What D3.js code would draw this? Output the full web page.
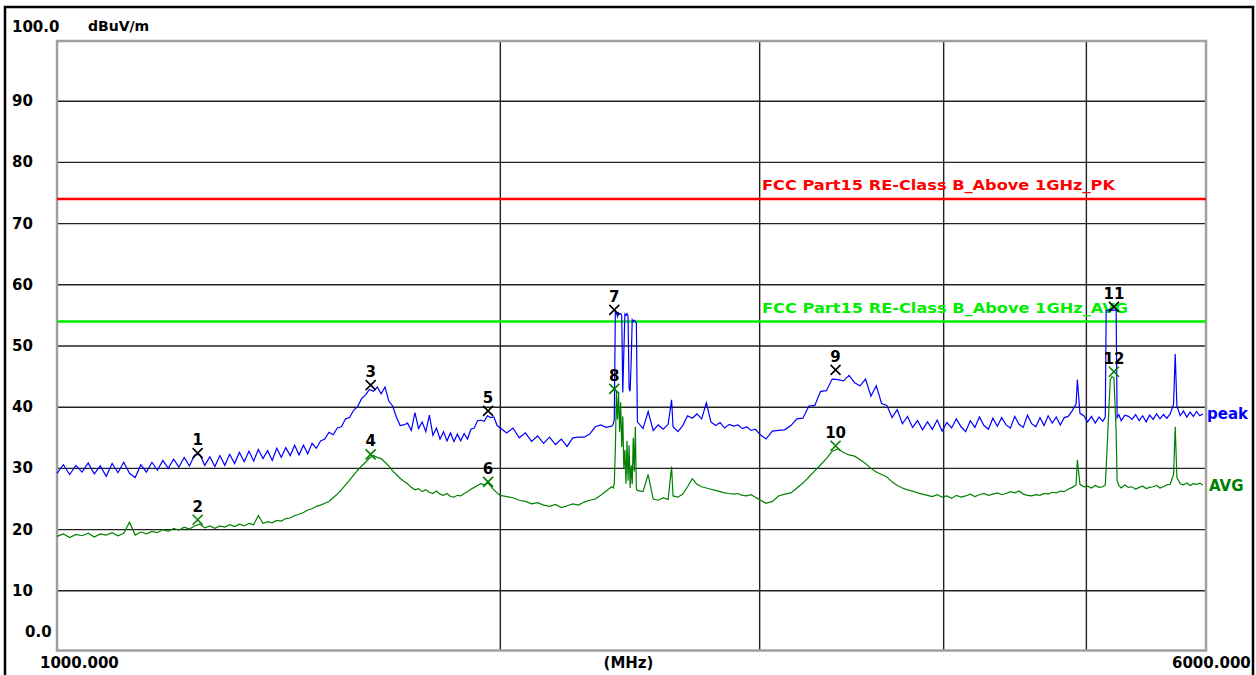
<!DOCTYPE html>
<html>
<head>
<meta charset="utf-8">
<script src="https://cdn.jsdelivr.net/npm/d3@7"></script>
<style>
  html, body { margin: 0; padding: 0; background: #fff; }
  svg { display: block; }
  text { font-family: "DejaVu Sans", sans-serif; }
</style>
</head>
<body>
<div id="chart"></div>
<script>
/* EMI scan 1-6 GHz, peak and average traces with FCC Part15 class B limits */

// sweep points (MHz) and levels (dBuV/m) in segments
const sweepA = [1000,1010,1020,1030,1040,1050,1060,1070,1080,1090,
    1100,1110,1120,1130,1140,1150,1160,1170,1180,1190,
    1200,1210,1220,1230,1240,1250,1260,1270,1280,1290,
    1300,1310,1320,1330,1340,1350,1360,1370,1380,1390,
    1400,1410,1420,1430,1440,1450,1460,1470,1480,1490,
    1500,1510,1520,1530,1540,1550,1560,1570,1580,1590,
    1600,1610,1620,1630,1640,1650,1660,1670,1680,1690,
    1700,1710,1720,1730,1740,1750,1760,1770,1780,1790,
    1800,1810,1820,1830,1840,1850,1860,1870,1880,1890,
    1900,1910,1920,1930,1940,1950,1960,1970,1980,1990];
const peakA = [29.2,30.6,29.0,30.5,29.4,30.9,29.1,30.4,28.7,30.8,
    29.3,31.0,29.2,28.5,30.6,29.4,31.0,29.7,31.3,30.0,
    31.5,30.2,31.8,30.4,32.2,32.3,30.5,31.9,30.3,32.1,
    30.5,32.3,30.8,32.6,31.1,32.8,31.2,33.1,31.6,32.9,
    31.3,33.3,31.8,33.4,32.1,33.8,32.2,33.8,32.4,34.1,
    33.3,34.5,34.8,35.9,35.5,36.6,36.8,38.1,38.3,39.5,
    40.1,41.4,42.0,42.9,42.6,43.3,42.2,43.3,41.0,40.2,
    38.4,37.0,37.1,37.4,36.2,39.1,36.5,37.6,36.0,38.7,
    35.4,36.6,34.8,36.0,34.5,35.8,34.4,35.6,34.5,35.7,
    34.8,36.4,36.6,37.8,37.9,37.7,38.6,38.3,38.4,37.0];
const avgA = [18.9,19.3,18.7,19.2,19.0,19.4,18.8,19.3,19.1,19.5,
    19.0,19.4,21.2,19.1,19.6,19.3,19.7,19.5,20.0,19.7,
    20.2,19.9,20.4,20.1,20.6,20.9,20.3,20.6,20.2,20.6,
    20.4,20.8,20.5,20.9,20.6,21.0,20.8,22.3,21.0,21.3,
    21.1,21.5,21.4,21.8,21.9,22.3,22.5,22.8,23.2,23.4,
    23.8,24.0,24.3,24.6,25.2,25.8,26.5,27.3,28.1,28.9,
    29.7,30.4,31.0,31.7,32.1,31.8,31.6,31.0,30.4,29.6,
    29.0,28.4,27.9,27.5,26.9,26.5,26.7,26.2,26.5,26.1,
    25.9,26.3,25.8,25.6,25.9,25.4,25.3,25.6,25.5,25.9,
    26.2,26.6,26.9,27.2,27.5,27.3,27.7,27.1,26.5,26.0];

const sweepB = [2000,2020,2040,2060,2080,2100,2120,2140,2160,2180,
    2200,2220,2240,2260,2280,2300,2320,2340,2360,2380];
const peakB = [36.6,35.8,36.6,35.0,35.8,34.4,35.3,34.1,35.1,33.9,
    34.8,33.6,35.0,35.1,35.1,35.6,36.8,37.1,36.7,36.9];
const avgB = [25.6,25.4,25.2,24.8,24.6,24.2,24.4,24.0,23.8,24.1,
    23.6,23.9,24.2,24.0,24.5,24.8,25.0,25.6,26.3,27.0];

// burst around 2.4 GHz
const sweepC = [2386,2390,2394,2398,2402,2406,2410,2414,2418,2422,2426,2430,
    2434,2438,2442,2446,2450,2454,2458,2462,2466,2470,2474,2478];
const peakC = [37.2,38.0,55.6,55.5,54.8,55.4,55.2,55.3,55.0,42.4,49.0,55.2,
    55.0,55.3,54.9,43.1,42.6,47.5,54.3,54.0,54.2,54.0,53.8,37.6];
const avgC = [26.8,27.5,33.0,42.6,38.0,42.2,36.0,40.8,33.5,38.5,30.0,33.0,
    27.5,34.5,28.0,33.8,26.8,30.5,27.4,35.0,29.5,36.8,26.6,26.4];

const sweepD = [2500,2520,2540,2560,2580,2600,2614,2620,2640,2660,2680,2700,2720,
    2740,2760,2780,2800,2820,2840,2860,2880,2900,2920,2940,2960,2980];
const peakD = [36.5,39.3,36.2,37.1,36.4,37.2,41.2,36.8,36.0,37.0,38.6,38.2,38.9,
    38.1,40.7,37.6,37.0,37.5,36.6,37.2,36.9,37.1,36.5,36.8,36.2,36.4];
const avgD = [26.2,29.0,25.0,24.8,25.2,24.9,30.3,25.5,25.3,25.8,27.0,28.3,27.4,
    27.0,26.8,26.6,26.4,26.2,26.0,25.9,25.8,25.9,25.6,25.5,25.7,25.3];

const sweepE = [3000,3030,3060,3090,3120,3150,3180,3210,3240,3270,
    3300,3330,3360,3390,3420,3450,3480,3510,3540,3570,
    3600,3630,3660,3690,3720,3750,3780,3810,3840,3870,
    3900,3930,3960,3990,4020,4050,4080,4110,4140,4170,
    4200,4230,4260,4290,4320,4350,4380,4410,4440,4470,
    4500,4530,4560,4590,4620,4650,4680,4710,4740,4770,
    4800,4830,4860,4890,4920,4930,4950,4980,5010,5040,
    5070,5100,5130,5150,5157,5175,5190,5205,5220,5238,
    5246,5260,5280,5310,5340,5370,5400,5430,5460,5490,
    5520,5550,5580,5610,5640,5670,5700,5730,5745,5760,
    5790,5820,5850,5880,5910,5940,5970,6000];
const peakE = [35.6,34.8,36.1,36.2,36.3,37.0,38.1,38.2,40.2,40.3,
    42.6,42.7,44.6,44.5,44.3,45.2,44.0,43.5,44.6,41.8,
    43.5,40.6,40.3,38.3,39.6,37.3,38.5,36.7,37.8,36.3,
    37.6,36.4,37.9,36.1,37.5,36.6,38.1,36.8,36.0,37.8,
    36.7,38.4,37.0,36.4,38.2,36.9,38.3,37.1,36.6,38.5,
    37.2,36.7,38.7,37.3,36.8,38.3,37.0,38.6,37.4,38.4,
    37.1,38.3,38.5,39.4,40.5,44.5,39.0,38.6,37.6,38.5,
    37.4,38.4,37.7,38.4,55.8,55.9,56.0,55.8,55.9,55.8,
    38.3,38.8,37.8,38.7,38.5,38.0,38.8,37.8,38.6,37.6,
    38.7,38.0,38.9,38.1,38.8,38.2,38.9,40.5,48.7,40.2,
    38.6,39.4,38.4,39.2,38.5,39.3,38.6,38.9];
const avgE = [24.9,24.3,24.6,25.5,25.8,26.0,26.8,27.6,28.6,29.6,
    30.6,31.6,32.8,33.2,32.6,32.2,32.0,31.4,30.8,30.0,
    29.4,29.0,28.6,27.8,27.2,26.8,26.5,26.3,26.0,25.8,
    25.6,25.4,25.7,25.3,25.5,25.1,25.6,25.3,25.5,25.8,
    25.4,25.7,25.9,25.6,25.8,26.0,25.7,25.9,26.2,26.0,
    26.3,25.8,25.6,25.5,25.7,25.6,25.9,25.8,26.1,26.0,
    26.3,26.2,26.6,26.9,27.3,31.4,27.4,27.0,27.1,26.8,
    27.2,26.9,27.0,27.3,30.0,38.0,44.5,45.0,44.8,36.0,
    28.0,27.2,26.8,27.3,26.9,27.0,26.6,26.9,27.1,26.7,
    26.9,27.0,27.2,26.8,27.0,27.3,27.4,29.0,36.8,28.5,
    27.5,27.3,27.6,27.2,27.5,27.4,27.6,27.3];

// limit lines
const limitNames = ["FCC Part15 RE-Class B_Above 1GHz_PK", "FCC Part15 RE-Class B_Above 1GHz_AVG"];
const limitLevels = [74, 54];

// markers
const markerNo = ["1","2","3","4","5","6","7","8","9","10","11","12"];
const markerFreq = [1246,1246,1633,1633,1962,1962,2390,2390,3378,3378,5220,5220];
const markerLevel = [32.5,21.6,43.6,32.3,39.4,27.8,55.9,43.0,46.1,33.7,56.4,45.8];
const markerTrace = ["peak","avg","peak","avg","peak","avg","peak","avg","peak","avg","peak","avg"];

const yTicks = [0,10,20,30,40,50,60,70,80,90,100];
const yTickLabels = ["0.0","10","20","30","40","50","60","70","80","90","100.0"];
const xGrid = [2000,3000,4000,5000];

const width = 1256, height = 675;
const colors = { peak: "#0000ff", avg: "#008000", pk: "#ff0000", av: "#00ee00" };

const svg = d3.select("#chart").append("svg")
    .attr("width", width)
    .attr("height", height);

const x = d3.scaleLog().domain([1000, 6000]).range([57, 1203]);
const y = d3.scaleLinear().domain([0, 100]).range([652, 40]);
const plotL = 57, plotR = 1206, plotT = 41, plotB = 650.5;

// outer black border
svg.append("rect")
    .attr("x", 5).attr("y", 7)
    .attr("width", 1248).attr("height", 700)
    .attr("fill", "none").attr("stroke", "#000").attr("stroke-width", 2.5);

// grid
svg.append("g").selectAll("line")
    .data(yTicks.filter(d => d > 0 && d < 100))
    .join("line")
    .attr("x1", plotL).attr("x2", plotR)
    .attr("y1", d => y(d)).attr("y2", d => y(d))
    .attr("stroke", "#222").attr("stroke-width", 1.4);

svg.append("g").selectAll("line")
    .data(xGrid)
    .join("line")
    .attr("x1", d => x(d)).attr("x2", d => x(d))
    .attr("y1", plotT).attr("y2", plotB)
    .attr("stroke", "#222").attr("stroke-width", 1.4);

// plot frame
svg.append("rect")
    .attr("x", plotL).attr("y", plotT)
    .attr("width", plotR - plotL).attr("height", plotB - plotT)
    .attr("fill", "none").attr("stroke", "#a0a0a0").attr("stroke-width", 2.5);

// y labels
svg.append("g").selectAll("text")
    .data(yTicks)
    .join("text")
    .attr("x", d => d === 0 ? 25 : 12)
    .attr("y", d => d === 100 ? y(d) - 8 : d === 0 ? y(d) - 15 : y(d) + 5)
    .attr("font-size", 15).attr("font-weight", "bold")
    .text((d, i) => yTickLabels[i]);

svg.append("text")
    .attr("x", 88).attr("y", 31)
    .attr("font-size", 14).attr("font-weight", "bold")
    .text("dBuV/m");

// x labels
svg.append("text")
    .attr("x", x(1000) - 17).attr("y", 668)
    .attr("font-size", 15).attr("font-weight", "bold")
    .text("1000.000");
svg.append("text")
    .attr("x", (plotL + plotR) / 2 - 3).attr("y", 668)
    .attr("text-anchor", "middle")
    .attr("font-size", 15).attr("font-weight", "bold")
    .text("(MHz)");
svg.append("text")
    .attr("x", x(6000) - 31).attr("y", 668)
    .attr("font-size", 15).attr("font-weight", "bold")
    .text("6000.000");

// limit lines
const limColors = [colors.pk, colors.av];
const limWidths = [353, 366];
limitLevels.forEach((lv, i) => {
    svg.append("line")
        .attr("x1", plotL).attr("x2", plotR)
        .attr("y1", y(lv)).attr("y2", y(lv))
        .attr("stroke", limColors[i]).attr("stroke-width", 2.5);
    svg.append("text")
        .attr("x", 762).attr("y", y(lv) - 9)
        .attr("font-size", 14).attr("font-weight", "bold")
        .attr("textLength", limWidths[i]).attr("lengthAdjust", "spacingAndGlyphs")
        .attr("fill", limColors[i])
        .text(limitNames[i]);
});

// traces
const freq = [...sweepA, ...sweepB, ...sweepC, ...sweepD, ...sweepE];
const peak = [...peakA, ...peakB, ...peakC, ...peakD, ...peakE];
const avg = [...avgA, ...avgB, ...avgC, ...avgD, ...avgE];

const line = d3.line()
    .x(d => x(d[0]))
    .y(d => y(d[1]));

svg.append("path")
    .datum(d3.zip(freq, avg))
    .attr("d", line)
    .attr("fill", "none")
    .attr("stroke", colors.avg)
    .attr("stroke-width", 1.2);

svg.append("path")
    .datum(d3.zip(freq, peak))
    .attr("d", line)
    .attr("fill", "none")
    .attr("stroke", colors.peak)
    .attr("stroke-width", 1.2);

// trace names
svg.append("text")
    .attr("x", 1207).attr("y", y(peak[peak.length - 1]) + 5)
    .attr("font-size", 15).attr("font-weight", "bold")
    .attr("fill", colors.peak)
    .text("peak");
svg.append("text")
    .attr("x", 1209).attr("y", y(avg[avg.length - 1]) + 6)
    .attr("font-size", 15).attr("font-weight", "bold")
    .attr("fill", colors.avg)
    .text("AVG");

// markers
const mk = svg.append("g").selectAll("g")
    .data(markerNo)
    .join("g")
    .attr("transform", (d, i) => `translate(${x(markerFreq[i])},${y(markerLevel[i])})`);

mk.append("path")
    .attr("d", "M-5,-5L5,5M5,-5L-5,5")
    .attr("stroke", (d, i) => markerTrace[i] === "peak" ? "#000" : colors.avg)
    .attr("stroke-width", 1.6);

mk.append("text")
    .attr("y", -8)
    .attr("text-anchor", "middle")
    .attr("font-size", 15).attr("font-weight", "bold")
    .text(d => d);
</script>
</body>
</html>
